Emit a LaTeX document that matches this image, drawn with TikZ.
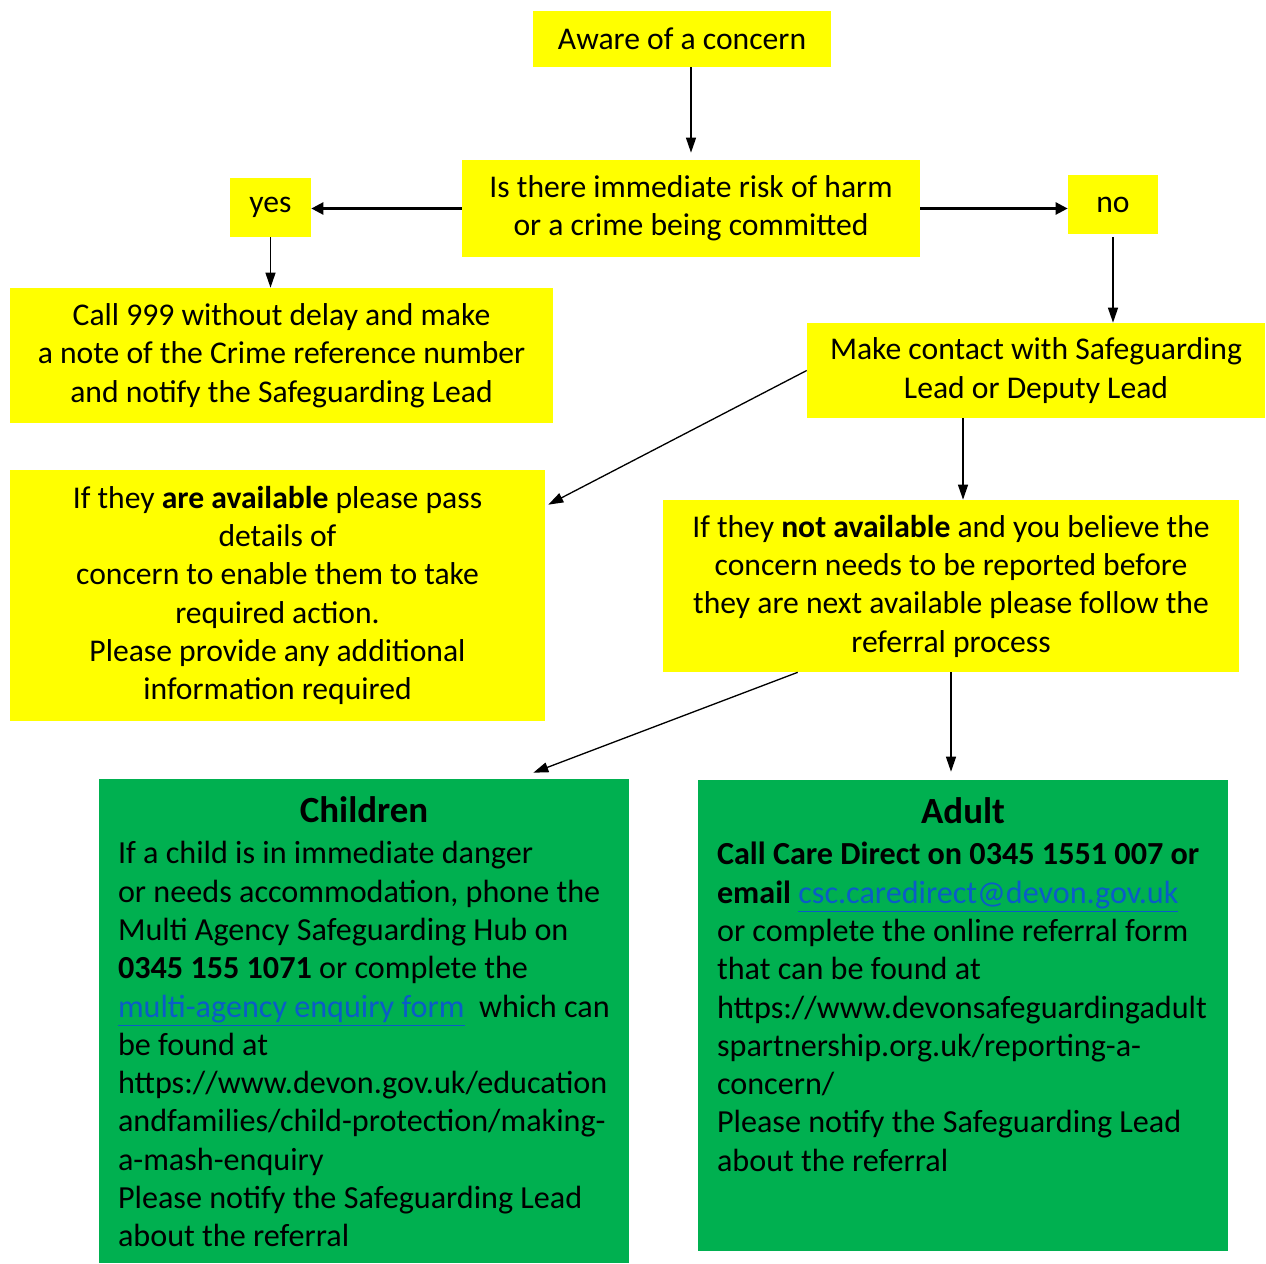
\documentclass[tikz,border=0pt]{standalone}
\usepackage{fontspec}
\setmainfont{Carlito}
\usetikzlibrary{arrows.meta}
\definecolor{boxyellow}{HTML}{FFFF00}
\definecolor{boxgreen}{HTML}{00B050}
\definecolor{linkblue}{HTML}{0B5CC8}
\newcommand{\weblink}[1]{\textcolor{linkblue}{\underline{#1}}}
\begin{document}
\begin{tikzpicture}[x=0.02cm,y=-0.02cm,
  ybox/.style={fill=boxyellow,inner sep=0pt,align=center,font=\fontsize{18}{21.8}\selectfont},
  gbox/.style={fill=boxgreen,inner xsep=0.38cm,inner ysep=0.31cm,text width=9.84cm,align=flush left,
    text height=0.56cm,font=\fontsize{18.3}{21.8}\selectfont},
  arr/.style={line width=0.75pt,-{Triangle[length=0.3cm,width=0.2cm]}},
  thickarr/.style={line width=1.4pt,-{Triangle[length=0.24cm,width=0.24cm]}}]
\useasboundingbox (0,0) rectangle (1266,1263);

\node (aware) at (682,39) [ybox,minimum width=5.96cm,minimum height=1.12cm]{Aware of a concern};
\node (risk) at (691,208.5) [ybox,minimum width=9.16cm,minimum height=1.94cm]{Is there immediate risk of harm\\or a crime being committed};
\node (yes) at (270.5,207.5) [ybox,minimum width=1.62cm,minimum height=1.18cm]{yes};
\node (no) at (1113,204.5) [ybox,minimum width=1.8cm,minimum height=1.18cm]{no};
\node (call) at (281.5,355.5) [ybox,minimum width=10.86cm,minimum height=2.7cm]{Call 999 without delay and make\\a note of the Crime reference number\\and notify the Safeguarding Lead};
\node (lead) at (1036,370.5) [ybox,minimum width=9.16cm,minimum height=1.9cm]{Make contact with Safeguarding\\Lead or Deputy Lead};
\node (avail) at (277.5,595.5) [ybox,minimum width=10.7cm,minimum height=5.02cm]{If they \textbf{are available} please pass\\details of\\concern to enable them to take\\required action.\\Please provide any additional\\information required};
\node (notavail) at (951,586) [ybox,minimum width=11.52cm,minimum height=3.44cm]{If they \textbf{not available} and you believe the\\concern needs to be reported before\\they are next available please follow the\\referral process};

\node (children) at (364,1021) [gbox,text depth=8.5cm]{\centerline{\fontsize{21}{21.8}\selectfont\bfseries Children}\vskip 1.7pt
If a child is in immediate danger\\or needs accommodation, phone the\\Multi Agency Safeguarding Hub on\\\textbf{0345 155 1071} or complete the\\\weblink{multi-agency enquiry form}\ \ which can\\be found at\\https://www.devon.gov.uk/education\\andfamilies/child-protection/making-\\a-mash-enquiry\\Please notify the Safeguarding Lead\\about the referral};
\node (adult) at (963,1015.5) [gbox,text depth=8.24cm]{\centerline{\fontsize{21}{21.8}\selectfont\bfseries Adult}\vskip 1.7pt
\textbf{Call Care Direct on 0345 1551 007 or}\\\textbf{email} \weblink{csc.caredirect@devon.gov.uk}\\or complete the online referral form\\that can be found at\\https://www.devonsafeguardingadult\\spartnership.org.uk/reporting-a-\\concern/\\Please notify the Safeguarding Lead\\about the referral};

\draw[arr,shorten >=0.14cm] (aware.south -| risk.north)--(risk.north);
\draw[thickarr] (risk.west)--(risk.west -| yes.east);
\draw[thickarr] (risk.east)--(risk.east -| no.west);
\draw[arr] (yes.south)--(yes.south |- call.north);
\draw[arr,shorten <=0.06cm] (no.south)--(no.south |- lead.north);
\draw[arr] (lead.west)--([shift={(0.06cm,-0.7cm)}]avail.north east);
\draw[arr] ([xshift=-1.46cm]lead.south)--([xshift=-1.46cm]lead.south |- notavail.north);
\draw[arr] ([xshift=2.7cm]notavail.south west)--([shift={(-1.92cm,0.12cm)}]children.north east);
\draw[arr,shorten >=0.16cm] (notavail.south)--(notavail.south |- adult.north);

\end{tikzpicture}
\end{document}
